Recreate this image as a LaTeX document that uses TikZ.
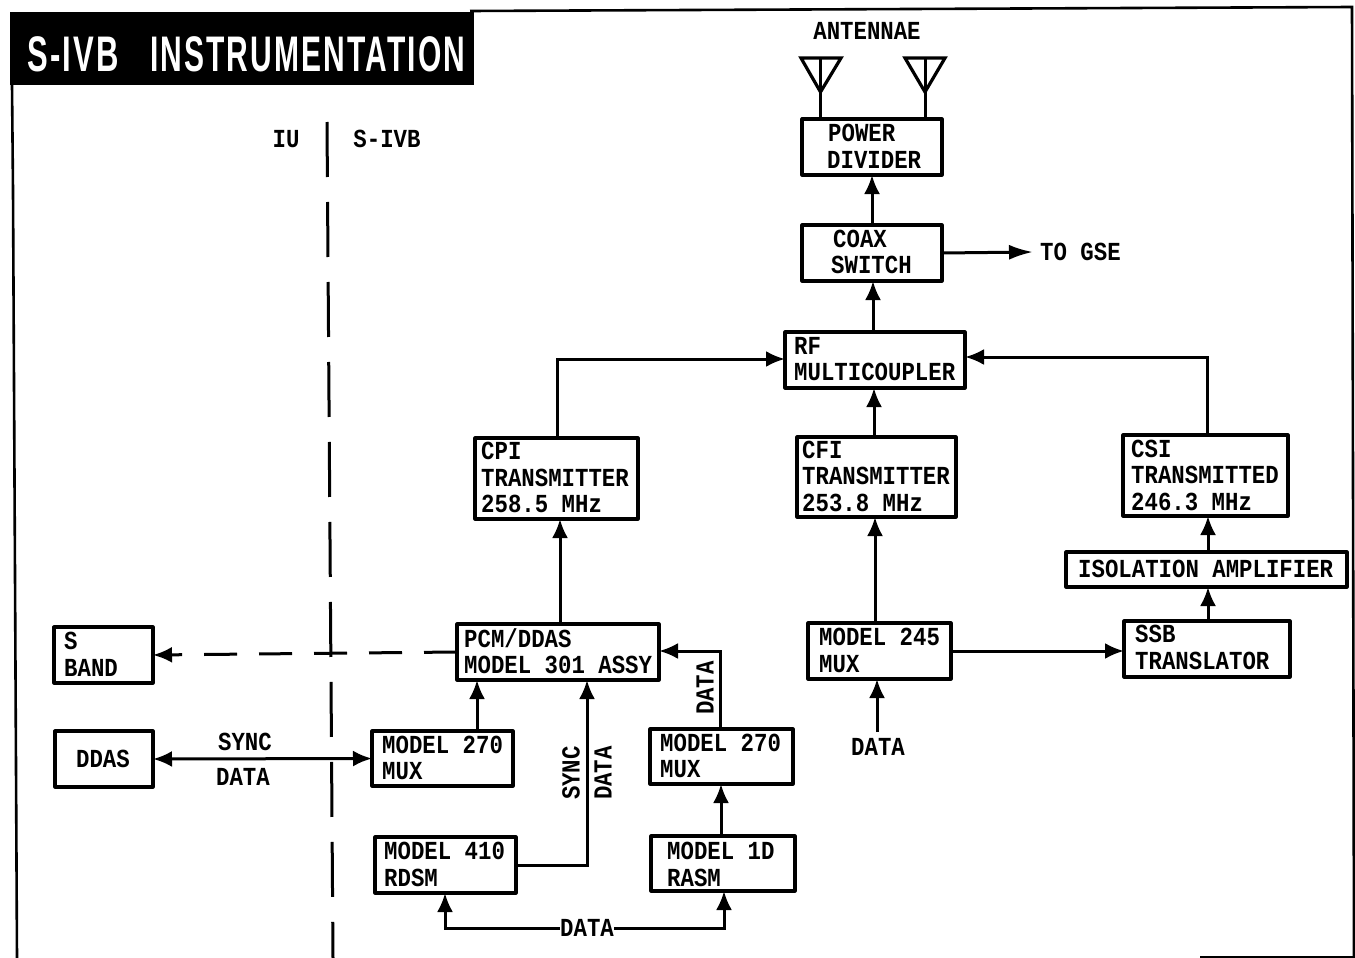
\documentclass[tikz,border=0pt]{standalone}
\usepackage{fontspec}
\usepackage{graphicx}
\setmainfont[FakeStretch=0.86]{Liberation Mono}
\newfontfamily\titlefont[LetterSpace=7]{Liberation Sans}
\usetikzlibrary{arrows.meta}
\tikzset{
 x=1pt,y=-1pt,
 blk/.style={draw=black,line width=3.2pt,inner sep=0pt,outer sep=0pt,line join=round},
 lab/.style={font=\fontsize{26}{30}\selectfont\bfseries,align=left,inner sep=0pt,anchor=west},
 txt/.style={font=\fontsize{26}{30}\selectfont\bfseries,inner sep=0pt},
 ttl/.style={text=white,inner sep=0pt,anchor=west,font=\titlefont\fontsize{50}{50}\selectfont\bfseries},
 conn/.style={line width=3pt,-{Latex[length=19pt,width=16pt]}},
 gseconn/.style={line width=3pt,-{Latex[length=24pt,width=15pt]}},
 plain/.style={line width=3pt},
 border/.style={line width=2.6pt},
}
\newcommand{\blockbox}[5]{%
 \node[blk,minimum width=#4pt-#2pt,minimum height=#5pt-#3pt,anchor=north west] (#1) at (#2,#3) {};
}
\begin{document}
\begin{tikzpicture}
\useasboundingbox (0,0) rectangle (1355,958);
\fill[white] (0,0) rectangle (1355,958);
% border
\coordinate (bTL) at (470,11); \coordinate (bTR) at (1352,7); \coordinate (bBR) at (1354,958);
\draw[border] (bTL) -- (bTR) -- (bBR);
\draw[border] (12,85) -- (13,190) -- (17,958);
\draw[border] (1200,957) -- (1355,957);
% title
\fill[black] (10,12) rectangle (474,85);
\node[ttl] (title1) at (27,54) {\scalebox{0.62}[1]{S-IVB}};
\node[ttl] (title2) at (150,54) {\scalebox{0.6}[1]{INSTRUMENTATION}};
% divider
\draw[line width=3pt,dash pattern=on 55pt off 25pt] (327,122) -- (333,958);
\node[txt] (iu) at (286,139) {IU};
\node[txt] (sivb) at (387,139) {S-IVB};
\node[txt] (ant) at (867,31) {ANTENNAE};
% boxes
\blockbox{pd}{802}{119}{942}{175}
\node[lab] at (828,133) {POWER};\node[lab] at (827,160) {DIVIDER};
\blockbox{cx}{802}{225}{942}{281}
\node[lab] at (833,239) {COAX};\node[lab] at (831,265) {SWITCH};
\blockbox{rf}{785}{332}{965}{388}
\node[lab] at (794,346) {RF};\node[lab] at (794,372) {MULTICOUPLER};
\blockbox{cpi}{475}{438}{638}{519}
\node[lab] at (481,451) {CPI};\node[lab] at (481,478) {TRANSMITTER};\node[lab] at (481,504) {258.5 MHz};
\blockbox{cfi}{797}{437}{956}{517}
\node[lab] at (802,450) {CFI};\node[lab] at (802,476) {TRANSMITTER};\node[lab] at (802,503) {253.8 MHz};
\blockbox{csi}{1123}{435}{1288}{516}
\node[lab] at (1131,449) {CSI};\node[lab] at (1131,475) {TRANSMITTED};\node[lab] at (1131,502) {246.3 MHz};
\blockbox{iso}{1066}{552}{1347}{587}
\node[lab] at (1078,569) {ISOLATION AMPLIFIER};
\blockbox{ssb}{1124}{621}{1290}{677}
\node[lab] at (1135,634) {SSB};\node[lab] at (1135,661) {TRANSLATOR};
\blockbox{pcm}{457}{624}{659}{680}
\node[lab] at (464,638) {PCM/DDAS};\node[lab] at (464,665) {MODEL 301 ASSY};
\blockbox{m245}{808}{623}{951}{679}
\node[lab] at (819,637) {MODEL 245};\node[lab] at (819,664) {MUX};
\blockbox{sb}{54}{627}{153}{683}
\node[lab] at (64,641) {S};\node[lab] at (64,668) {BAND};
\blockbox{dd}{55}{731}{153}{787}
\node[txt] at (103,759) {DDAS};
\blockbox{m270a}{372}{731}{513}{786}
\node[lab] at (382,745) {MODEL 270};\node[lab] at (382,771) {MUX};
\blockbox{m270b}{650}{729}{793}{784}
\node[lab] at (660,743) {MODEL 270};\node[lab] at (660,769) {MUX};
\blockbox{m410}{375}{837}{516}{893}
\node[lab] at (384,851) {MODEL 410};\node[lab] at (384,878) {RDSM};
\blockbox{m1d}{651}{836}{795}{891}
\node[lab] at (667,851) {MODEL 1D};\node[lab] at (667,878) {RASM};
% antennae
\draw[plain] (pd.north -| 820,0) -- (820,58);\draw[plain] (pd.north -| 925,0) -- (925,58);
\draw[line width=3.2pt,line join=miter] (801,58) -- (841,58) -- (820.5,92) -- cycle;
\draw[line width=3.2pt,line join=miter] (905,58) -- (945,58) -- (925,92) -- cycle;
% connectors
\draw[conn] (cx.north -| 872,0) -- (pd.south -| 872,0);
\draw[conn] (rf.north -| 873,0) -- (cx.south -| 873,0);
\draw[conn] (cfi.north -| 874,0) -- (rf.south -| 874,0);
\node[txt,anchor=west] (gse) at (1040,252) {TO GSE};
\draw[gseconn] (cx.east) -- (gse.west -| 1033,0);
\draw[conn] (cpi.north -| 557,0) -- (557,359) -- (rf.west |- 0,359);
\draw[conn] (csi.north -| 1207,0) -- (1207,357) -- (rf.east |- 0,357);
\draw[conn] (pcm.north -| 560,0) -- (cpi.south -| 560,0);
\draw[conn] (m245.north -| 875,0) -- (cfi.south -| 875,0);
\draw[conn] (iso.north -| 1208,0) -- (csi.south -| 1208,0);
\draw[conn] (ssb.north -| 1208,0) -- (iso.south -| 1208,0);
\draw[conn] (m245.east) -- (ssb.west |- m245.east);
\node[txt] (dm) at (878,747) {DATA};
\draw[conn] (dm.north -| 877,0) ++(0,-6) -- (m245.south -| 877,0);
\draw[conn,dash pattern=on 33pt off 22pt] (pcm.west) -- (sb.east);
\draw[line width=3pt,{Latex[length=19pt,width=16pt]}-{Latex[length=19pt,width=16pt]}] (dd.east) -- (m270a.west);
\node[txt] at (245,742) {SYNC};\node[txt] at (243,777) {DATA};
\draw[conn] (m270a.north -| 477,0) -- (pcm.south -| 477,0);
\draw[conn] (m270b.north -| 720,0) -- (720,651) -- (pcm.east |- 0,651);
\node[txt,rotate=90] at (705,688) {DATA};
\draw[conn] (m410.east) -- (587,865) -- (pcm.south -| 587,0);
\node[txt,rotate=90] at (571,773) {SYNC};
\node[txt,rotate=90] at (603,773) {DATA};
\draw[conn] (m1d.north -| 721,0) -- (m270b.south -| 721,0);
\node[txt] (dt) at (587,928) {DATA};
\draw[conn] (dt.west) -- (445,928) -- (m410.south -| 445,0);
\draw[conn] (dt.east) -- (724,928) -- (m1d.south -| 724,0);
\end{tikzpicture}
\end{document}
